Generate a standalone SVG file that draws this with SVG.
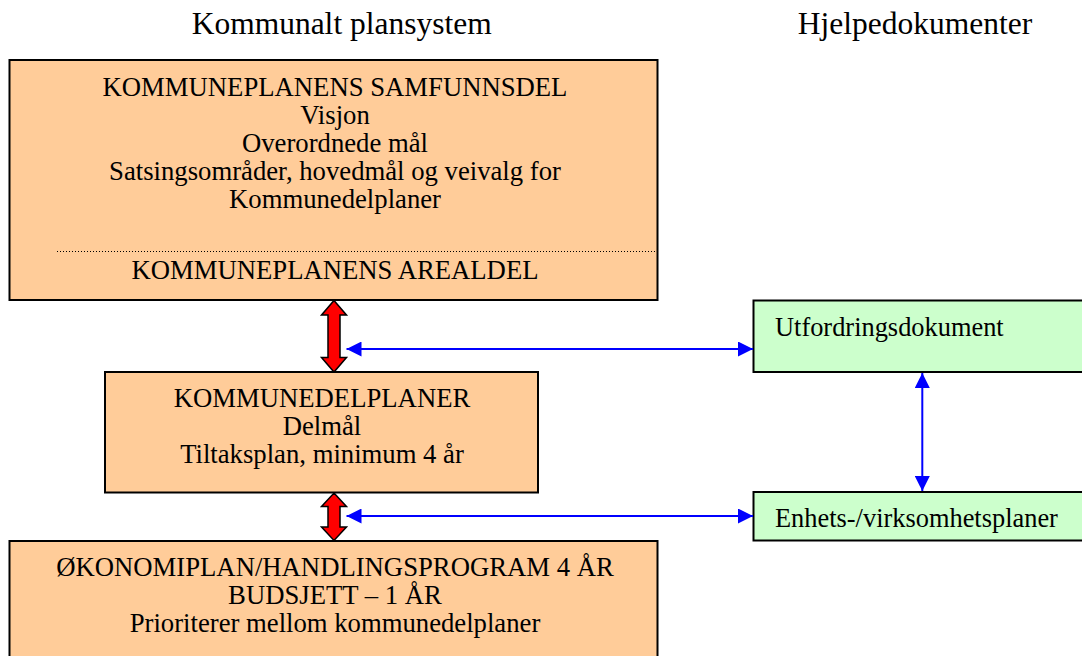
<svg xmlns="http://www.w3.org/2000/svg" width="1082" height="656" viewBox="0 0 1082 656">
<style>
text{font-family:"Liberation Serif","Times New Roman",serif;fill:#000}
.t{font-size:31.5px;text-anchor:middle}
.b{font-size:26.7px;text-anchor:middle}
.g{font-size:26.4px}
.peach{fill:#FFCC99;stroke:#000;stroke-width:2}
.green{fill:#CCFFCC;stroke:#000;stroke-width:2}
.red{fill:#FF0000;stroke:#000;stroke-width:1.5;stroke-linejoin:miter}
.blue{stroke:#0000FF;stroke-width:2;fill:none}
</style>
<defs>
<marker id="ah" viewBox="0 0 15 15" refX="15" refY="7.5" markerWidth="15" markerHeight="15" markerUnits="userSpaceOnUse" orient="auto-start-reverse">
<path d="M0,0 L15,7.5 L0,15 Z" fill="#0000FF"/>
</marker>
</defs>
<rect width="1082" height="656" fill="#fff"/>
<g id="titles">
<text class="t" x="341.7" y="34.3">Kommunalt plansystem</text>
<text class="t" x="915" y="34.3">Hjelpedokumenter</text>
</g>
<g id="node-samfunnsdel">
<rect class="peach" x="9.5" y="60" width="648" height="240"/>
<text class="b" x="335" y="95.5">KOMMUNEPLANENS SAMFUNNSDEL</text>
<text class="b" x="335" y="123.5">Visjon</text>
<text class="b" x="335" y="151.5">Overordnede mål</text>
<text class="b" x="335" y="179.5">Satsingsområder, hovedmål og veivalg for</text>
<text class="b" x="335" y="207.5">Kommunedelplaner</text>
<line x1="57" y1="251.5" x2="655" y2="251.5" stroke="#000" stroke-width="1" stroke-dasharray="1,2"/>
<text class="b" x="335" y="279.3">KOMMUNEPLANENS AREALDEL</text>
</g>
<g id="node-kommunedelplaner">
<rect class="peach" x="105" y="372" width="433" height="120.5"/>
<text class="b" x="322" y="406.7">KOMMUNEDELPLANER</text>
<text class="b" x="322" y="434.7">Delmål</text>
<text class="b" x="322" y="462.7">Tiltaksplan, minimum 4 år</text>
</g>
<g id="node-okonomiplan">
<rect class="peach" x="9.5" y="541" width="648" height="130"/>
<text class="b" x="335" y="576">ØKONOMIPLAN/HANDLINGSPROGRAM 4 ÅR</text>
<text class="b" x="335" y="604">BUDSJETT – 1 ÅR</text>
<text class="b" x="335" y="632">Prioriterer mellom kommunedelplaner</text>
</g>
<g id="node-utfordringsdokument">
<rect class="green" x="753.5" y="300.5" width="340" height="71.5"/>
<text class="g" x="775" y="335.7">Utfordringsdokument</text>
</g>
<g id="node-enhetsplaner">
<rect class="green" x="753.5" y="492" width="340" height="48.5"/>
<text class="g" x="775" y="526.7">Enhets-/virksomhetsplaner</text>
</g>
<g id="connectors">
<path class="red" d="M334,300.5 L346.5,315 L340,315 L340,357.5 L346.5,357.5 L334,372 L321.5,357.5 L328,357.5 L328,315 L321.5,315 Z"/>
<path class="red" d="M334,493 L346.5,506.5 L340,506.5 L340,527 L346.5,527 L334,540.5 L321.5,527 L328,527 L328,506.5 L321.5,506.5 Z"/>
<line class="blue" x1="346.5" y1="349" x2="753" y2="349" marker-start="url(#ah)" marker-end="url(#ah)"/>
<line class="blue" x1="346.5" y1="516" x2="753" y2="516" marker-start="url(#ah)" marker-end="url(#ah)"/>
<line class="blue" x1="922.3" y1="373" x2="922.3" y2="491" marker-start="url(#ah)" marker-end="url(#ah)"/>
</g>
</svg>
